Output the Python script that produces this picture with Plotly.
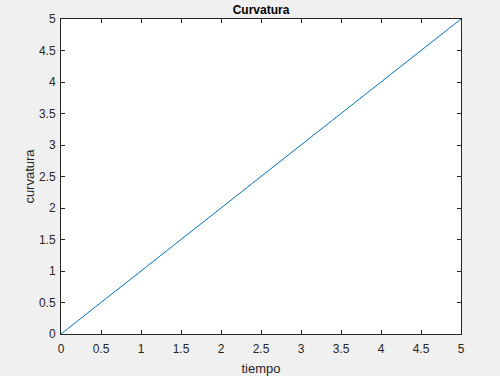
import plotly.graph_objects as go

tiempo = [0, 1, 2, 3, 4, 5]
curvatura = [0, 1, 2, 3, 4, 5]
tick_vals = [0, 0.5, 1, 1.5, 2, 2.5, 3, 3.5, 4, 4.5, 5]
tick_text = ["0", "0.5", "1", "1.5", "2", "2.5", "3", "3.5", "4", "4.5", "5"]

fig = go.Figure()
fig.add_trace(go.Scatter(x=tiempo, y=curvatura, mode="lines",
                         line=dict(color="#0072BD", width=1)))

axis_common = dict(
    range=[0, 5], tickvals=tick_vals, ticktext=tick_text,
    ticks="inside", ticklen=4, tickwidth=1, tickcolor="#262626",
    showline=True, linecolor="#262626", linewidth=1, mirror="ticks",
    showgrid=False, zeroline=False, automargin=False,
    tickfont=dict(family="Liberation Sans, Arial", size=12, color="#262626"),
)

fig.update_layout(
    width=500, height=376,
    margin=dict(l=61, r=39, t=19, b=42),
    paper_bgcolor="#f0f0f0", plot_bgcolor="white",
    showlegend=False,
    title=dict(text="<b>Curvatura</b>", x=0.522, xanchor="center", y=0.975, yanchor="middle",
               font=dict(family="Liberation Sans, Arial", size=12, color="black")),
    xaxis=dict(axis_common, ticklabelstandoff=4,
               title=dict(text="tiempo", standoff=8,
               font=dict(family="Liberation Sans, Arial", size=13, color="#262626"))),
    yaxis=dict(axis_common, ticklabelstandoff=2,
               title=dict(text="curvatura", standoff=1,
               font=dict(family="Liberation Sans, Arial", size=13, color="#262626"))),
)

fig.write_html("out.html")
